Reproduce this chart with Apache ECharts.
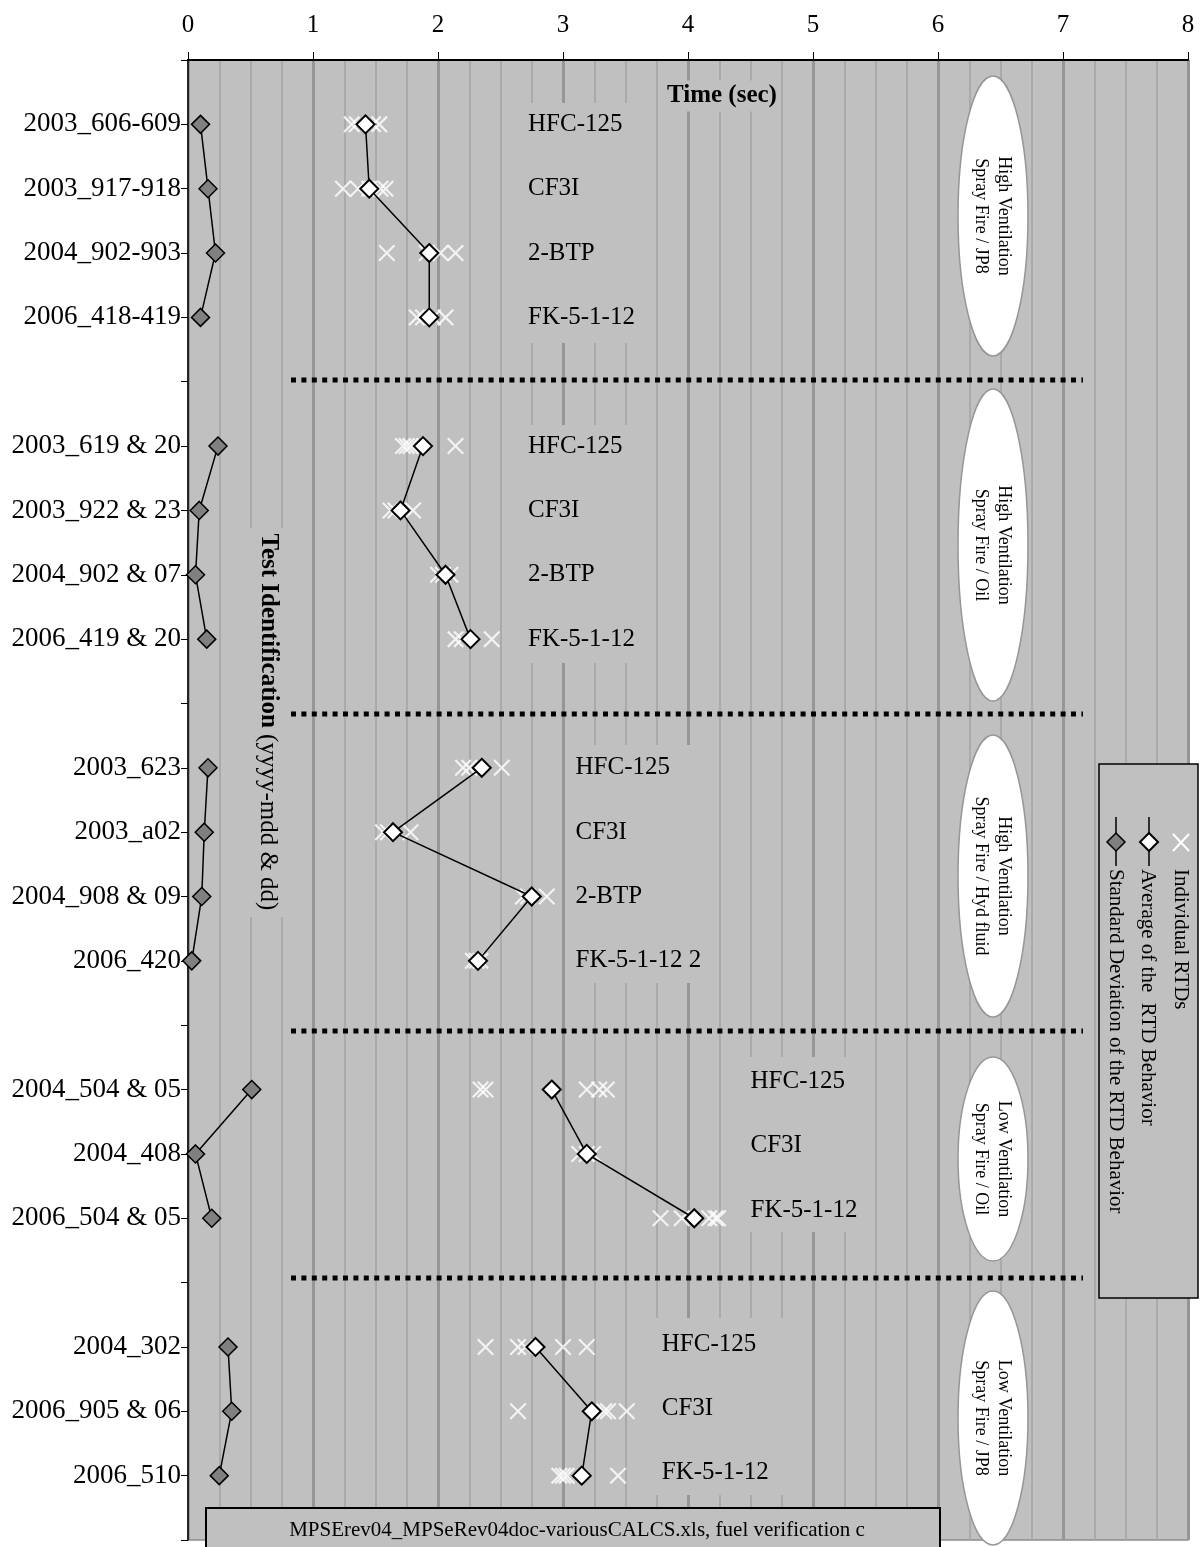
<!DOCTYPE html>
<html>
<head>
<meta charset="utf-8">
<script src="https://cdn.jsdelivr.net/npm/echarts@6/dist/echarts.min.js"></script>
<style>
html,body{margin:0;padding:0;background:#fff;}
#chart{width:1204px;height:1547px;}
</style>
</head>
<body>
<div id="chart"></div>
<script>
// ---------------- DATA ----------------
const xTickLabels = ['0','1','2','3','4','5','6','7','8'];

const rowLabels = [
  '2003_606-609','2003_917-918','2004_902-903','2006_418-419','',
  '2003_619 & 20','2003_922 & 23','2004_902 & 07','2006_419 & 20','',
  '2003_623','2003_a02','2004_908 & 09','2006_420','',
  '2004_504 & 05','2004_408','2006_504 & 05','',
  '2004_302','2006_905 & 06','2006_510'
];

const compoundByRow = [
  'HFC-125','CF3I','2-BTP','FK-5-1-12','',
  'HFC-125','CF3I','2-BTP','FK-5-1-12','',
  'HFC-125','CF3I','2-BTP','FK-5-1-12 2','',
  'HFC-125','CF3I','FK-5-1-12','',
  'HFC-125','CF3I','FK-5-1-12'
];

const sdRTD = [0.10, 0.16, 0.22, 0.10, null,
               0.24, 0.09, 0.06, 0.15, null,
               0.16, 0.13, 0.11, 0.03, null,
               0.51, 0.06, 0.19, null,
               0.32, 0.35, 0.25];

const avgRTD = [1.42, 1.45, 1.93, 1.93, null,
                1.88, 1.70, 2.06, 2.26, null,
                2.35, 1.64, 2.75, 2.32, null,
                2.91, 3.19, 4.05, null,
                2.78, 3.23, 3.15];

const indivRTD = [
  [1.31, 1.35, 1.48, 1.53],
  [1.24, 1.36, 1.45, 1.54, 1.58],
  [1.59, 1.91, 2.02, 2.14],
  [1.83, 1.88, 1.96, 2.06],
  [],
  [1.72, 1.75, 1.78, 2.14],
  [1.62, 1.66, 1.80],
  [2.00, 2.04, 2.10],
  [2.14, 2.19, 2.43],
  [],
  [2.20, 2.25, 2.51],
  [1.56, 1.60, 1.78],
  [2.68, 2.72, 2.87],
  [2.28, 2.31, 2.34],
  [],
  [2.34, 2.38, 3.19, 3.29, 3.35],
  [3.13, 3.19, 3.24],
  [3.78, 3.95, 4.17, 4.22, 4.24],
  [],
  [2.38, 2.64, 2.70, 3.00, 3.19],
  [2.64, 3.33, 3.36, 3.51],
  [2.97, 3.00, 3.03, 3.44]
];

const scenarioLabels = [
  ['High Ventilation', 'Spray Fire / JP8'],
  ['High Ventilation', 'Spray Fire / Oil'],
  ['High Ventilation', 'Spray Fire / Hyd fluid'],
  ['Low Ventilation', 'Spray Fire / Oil'],
  ['Low Ventilation', 'Spray Fire / JP8']
];

const legendNames = ['Individual RTDs', 'Average of the  RTD Behavior', 'Standard Deviation of the RTD Behavior'];
const axisTitleX = 'Time (sec)';
const axisTitleYBold = 'Test Identification';
const axisTitleYNormal = '(yyyy-mdd & dd)';
const sourceNote = 'MPSErev04_MPSeRev04doc-variousCALCS.xls, fuel verification c';

// ---------------- LAYOUT / STYLE ----------------
const FONT = '"Liberation Serif", "Times New Roman", Times, serif';
const BG = '#c0c0c0';
const X_PATH = 'path://M0,1.8L1.8,0L20,18.2L18.2,20ZM18.2,0L20,1.8L1.8,20L0,18.2Z';

// group of each row (for label x start + vertical nudge)
const groupOfRow = [0,0,0,0,-1, 1,1,1,1,-1, 2,2,2,2,-1, 3,3,3,-1, 4,4,4];
const groupLabelX = [2.72, 2.72, 3.10, 4.50, 3.79];
const groupLabelDy = [0, 0, 0, -8, -3];
const groupBoxes = [ // cover boxes behind compound labels (pixels)
  [522, 103, 133, 240],
  [522, 425, 133, 238],
  [568, 745, 142, 238],
  [745, 1057, 125, 175],
  [655, 1318, 135, 177]
];
const ellipses = [ // cx, cy, rx, ry
  [993, 216, 35, 140],
  [993, 545, 35, 156],
  [993, 876, 35, 141],
  [993, 1159, 35, 102],
  [993, 1418, 35, 127]
];
const separatorsY = [380, 714, 1031, 1278];

// ---------------- BUILD ----------------
const sdData = sdRTD.map((v, i) => v == null ? ['-', i + 1] : [v, i + 1]);
const avgData = avgRTD.map((v, i) => v == null ? ['-', i + 1] : [v, i + 1]);
const indivData = [];
indivRTD.forEach((arr, i) => arr.forEach(v => indivData.push([v, i + 1])));

const chart = echarts.init(document.getElementById('chart'), null, {renderer: 'canvas'});

const option = {
  animation: false,
  backgroundColor: '#ffffff',
  grid: {
    left: 188, right: 16, top: 60, bottom: 7,
    show: true, backgroundColor: BG, borderColor: '#8c8c8c', borderWidth: 1.5
  },
  xAxis: {
    type: 'value', position: 'top', min: 0, max: 8, interval: 1,
    axisLine: {show: true, lineStyle: {color: '#000', width: 2}},
    axisTick: {show: true, inside: false, length: 8, lineStyle: {color: '#000', width: 1}},
    axisLabel: {
      show: true, margin: 22, color: '#000', fontSize: 25, fontFamily: FONT,
      formatter: v => xTickLabels[Math.round(v)]
    },
    splitLine: {show: true, lineStyle: {color: '#969696', width: 3}},
    minorTick: {show: false, splitNumber: 4},
    minorSplitLine: {show: true, lineStyle: {color: '#a3a3a3', width: 1.5}}
  },
  yAxis: {
    type: 'value', inverse: true, min: 0, max: 23, interval: 1,
    axisLine: {show: true, onZero: false, lineStyle: {color: '#000', width: 1.5}},
    axisTick: {show: true, inside: false, length: 7, lineStyle: {color: '#000', width: 1}},
    axisLabel: {
      show: true, margin: 7, color: '#000', fontSize: 27, fontFamily: FONT,
      formatter: v => rowLabels[Math.round(v) - 1] || ''
    },
    splitLine: {show: false}
  },
  series: [
    {
      name: legendNames[0], type: 'scatter', data: indivData, z: 3,
      symbol: X_PATH, symbolSize: [17, 17],
      itemStyle: {color: '#ffffff'}
    },
    {
      name: legendNames[2], type: 'line', data: sdData, z: 4,
      connectNulls: false,
      symbol: 'diamond', symbolSize: [18, 18], showAllSymbol: true,
      lineStyle: {color: '#000', width: 1.5},
      itemStyle: {color: '#808080', borderColor: '#000', borderWidth: 1.5}
    },
    {
      name: legendNames[1], type: 'line', data: avgData, z: 5,
      connectNulls: false,
      symbol: 'diamond', symbolSize: [18, 18], showAllSymbol: true,
      lineStyle: {color: '#000', width: 1.5},
      itemStyle: {color: '#ffffff', borderColor: '#000', borderWidth: 2}
    }
  ]
};
chart.setOption(option);

// ---------------- ANNOTATIONS ----------------
const toPx = (x, y) => chart.convertToPixel({xAxisIndex: 0, yAxisIndex: 0}, [x, y]);
const g = [];

// cover boxes (text boxes hiding gridlines)
groupBoxes.forEach(b => g.push({type: 'rect', z: 1, shape: {x: b[0], y: b[1], width: b[2], height: b[3]}, style: {fill: BG}}));
g.push({type: 'rect', z: 1, shape: {x: 240, y: 528, width: 55, height: 389}, style: {fill: BG}});

// compound labels
compoundByRow.forEach((name, i) => {
  if (!name) return;
  const gi = groupOfRow[i];
  const p = toPx(groupLabelX[gi], i + 1);
  g.push({type: 'text', z: 6, x: p[0], y: p[1] + groupLabelDy[gi],
    style: {text: name, fill: '#000', fontSize: 25, fontFamily: FONT,
      align: 'left', textAlign: 'left', verticalAlign: 'middle', textVerticalAlign: 'middle'}});
});

// x-axis title
g.push({type: 'text', z: 6, x: 663, y: 96,
  style: {text: axisTitleX, fill: '#000', fontSize: 25, fontWeight: 'bold', fontFamily: FONT,
    align: 'left', textAlign: 'left', verticalAlign: 'middle', textVerticalAlign: 'middle',
    backgroundColor: BG, padding: [3, 4]}});

// y-axis title (rotated clockwise)
g.push({type: 'text', z: 6, x: 268, y: 722, rotation: -Math.PI / 2,
  style: {text: '{b|' + axisTitleYBold + '} {n|' + axisTitleYNormal + '}',
    fill: '#000', fontSize: 25, fontFamily: FONT,
    align: 'center', textAlign: 'center', verticalAlign: 'middle', textVerticalAlign: 'middle',
    rich: {
      b: {fontSize: 25, fontWeight: 'bold', fontFamily: FONT, fill: '#000', color: '#000'},
      n: {fontSize: 25, fontWeight: 'normal', fontFamily: FONT, fill: '#000', color: '#000'}
    }}});

// dotted separators
separatorsY.forEach(y => g.push({type: 'line', z: 1,
  shape: {x1: 291, y1: y, x2: 1083, y2: y},
  style: {stroke: '#000', lineWidth: 5, lineDash: [5, 5.4]}}));

// scenario ellipses
ellipses.forEach((e, i) => {
  g.push({type: 'ellipse', z: 1, shape: {cx: e[0], cy: e[1], rx: e[2], ry: e[3]},
    style: {fill: '#ffffff', stroke: '#969696', lineWidth: 1.5}});
  g.push({type: 'text', z: 6, x: e[0] - 1, y: e[1], rotation: -Math.PI / 2,
    style: {text: scenarioLabels[i].join('\n'), fill: '#000', fontSize: 18, fontFamily: FONT,
      lineHeight: 23, align: 'center', textAlign: 'center', verticalAlign: 'middle', textVerticalAlign: 'middle'}});
});

// legend box
g.push({type: 'rect', z: 1, shape: {x: 1099, y: 764, width: 99, height: 534},
  style: {fill: BG, stroke: '#000', lineWidth: 1.5}});
// individual marker (white X)
g.push({type: 'line', z: 6, shape: {x1: 1173, y1: 834, x2: 1189, y2: 851}, style: {stroke: '#fff', lineWidth: 2}});
g.push({type: 'line', z: 6, shape: {x1: 1189, y1: 834, x2: 1173, y2: 851}, style: {stroke: '#fff', lineWidth: 2}});
// average marker
g.push({type: 'line', z: 6, shape: {x1: 1149, y1: 817, x2: 1149, y2: 866}, style: {stroke: '#000', lineWidth: 1.5}});
g.push({type: 'polygon', z: 7, shape: {points: [[1149, 833], [1158, 842], [1149, 851], [1140, 842]]},
  style: {fill: '#fff', stroke: '#000', lineWidth: 2}});
// std marker
g.push({type: 'line', z: 6, shape: {x1: 1116, y1: 817, x2: 1116, y2: 866}, style: {stroke: '#000', lineWidth: 1.5}});
g.push({type: 'polygon', z: 7, shape: {points: [[1116, 833], [1125, 842], [1116, 851], [1107, 842]]},
  style: {fill: '#808080', stroke: '#000', lineWidth: 1.5}});
[1181, 1148, 1116].forEach((x, i) => g.push({type: 'text', z: 6, x: x, y: 869, rotation: -Math.PI / 2,
  style: {text: legendNames[i], fill: '#000', fontSize: 21, fontFamily: FONT,
    align: 'left', textAlign: 'left', verticalAlign: 'middle', textVerticalAlign: 'middle'}}));

// source note box
g.push({type: 'rect', z: 8, shape: {x: 206, y: 1508, width: 734, height: 50},
  style: {fill: BG, stroke: '#000', lineWidth: 2}});
g.push({type: 'text', z: 9, x: 577, y: 1530,
  style: {text: sourceNote, fill: '#000', fontSize: 21, fontFamily: FONT,
    align: 'center', textAlign: 'center', verticalAlign: 'middle', textVerticalAlign: 'middle'}});

chart.setOption({graphic: {elements: g}});
</script>
</body>
</html>
